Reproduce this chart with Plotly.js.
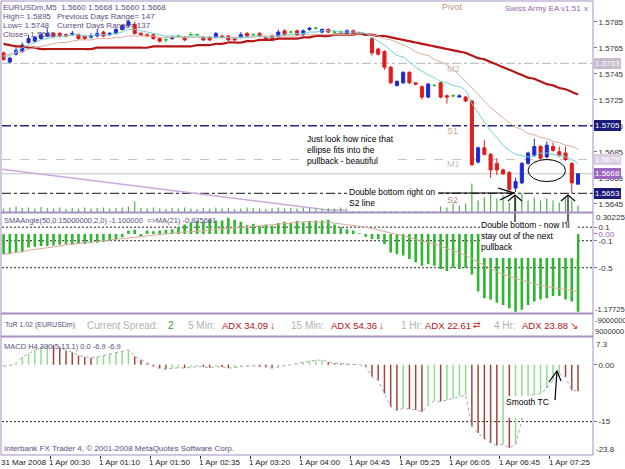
<!DOCTYPE html>
<html>
<head>
<meta charset="utf-8">
<script src="https://cdn.plot.ly/plotly-3.0.1.min.js"></script>
<style>
html,body{margin:0;padding:0;background:#ffffff;}
#chart{width:625px;height:469px;}
</style>
</head>
<body>
<div id="chart"></div>
<script>
// ---------------- DATA (EURUSDm, M5) ----------------
const timeLabels = ['31 Mar 2008','1 Apr 00:30','1 Apr 01:10','1 Apr 01:50','1 Apr 02:35','1 Apr 03:20','1 Apr 04:00','1 Apr 04:45','1 Apr 05:25','1 Apr 06:05','1 Apr 06:45','1 Apr 07:25'];
const timeTickPos = [-0.25,7.5,15.5,23.5,31.5,39.5,47.5,55.5,63.5,71.5,79.5,87.5];

const open = [1.5761,1.5754,1.5760,1.5762,1.5769,1.5770,1.5772,1.5774,1.5776,1.5776,
1.5775,1.5775,1.5775,1.5774,1.5773,1.5774,1.5777,1.5775,1.5776,1.5779,
1.5782,1.5783,1.5776,1.5775,1.5775,1.5772,1.5771,1.5772,1.5774,1.5773,
1.5775,1.5775,1.5773,1.5773,1.5773,1.5774,1.5774,1.5772,1.5773,1.5776,
1.5775,1.5776,1.5773,1.5774,1.5774,1.5778,1.5777,1.5778,1.5775,1.5779,
1.5780,1.5777,1.5779,1.5777,1.5777,1.5776,1.5778,1.5776,1.5775,1.5772,
1.5764,1.5762,1.5750,1.5736,1.5738,1.5746,1.5738,1.5735,1.5727,1.5736,
1.5738,1.5728,1.5728,1.5727,1.5727,1.5724,1.5677,1.5688,1.5683,1.5676,
1.5671,1.5669,1.5657,1.5661,1.5676,1.5682,1.5689,1.5681,1.5689,1.5685,
1.5684,1.5676,1.5660];
const high = [1.5762,1.5758,1.5765,1.5769,1.5775,1.5774,1.5777,1.5780,1.5777,1.5777,
1.5776,1.5778,1.5776,1.5774,1.5776,1.5779,1.5778,1.5777,1.5780,1.5783,
1.5786,1.5785,1.5777,1.5776,1.5776,1.5773,1.5773,1.5774,1.5775,1.5774,
1.5777,1.5776,1.5774,1.5774,1.5777,1.5775,1.5775,1.5773,1.5777,1.5777,
1.5776,1.5777,1.5774,1.5775,1.5779,1.5779,1.5778,1.5779,1.5779,1.5781,
1.5781,1.5780,1.5780,1.5778,1.5778,1.5779,1.5779,1.5777,1.5776,1.5773,
1.5765,1.5763,1.5751,1.5740,1.5747,1.5747,1.5738,1.5736,1.5738,1.5737,
1.5739,1.5729,1.5729,1.5729,1.5728,1.5725,1.5689,1.5694,1.5684,1.5680,
1.5672,1.5670,1.5665,1.5677,1.5685,1.5695,1.5690,1.5693,1.5692,1.5689,
1.5689,1.5677,1.5668];
const low = [1.5755,1.5753,1.5759,1.5761,1.5768,1.5769,1.5771,1.5773,1.5773,1.5773,
1.5773,1.5774,1.5771,1.5771,1.5772,1.5773,1.5773,1.5774,1.5775,1.5778,
1.5781,1.5775,1.5774,1.5773,1.5771,1.5769,1.5769,1.5771,1.5773,1.5770,
1.5774,1.5774,1.5770,1.5770,1.5772,1.5772,1.5770,1.5770,1.5772,1.5773,
1.5774,1.5773,1.5771,1.5770,1.5773,1.5774,1.5776,1.5774,1.5774,1.5778,
1.5779,1.5776,1.5776,1.5776,1.5776,1.5775,1.5775,1.5775,1.5774,1.5759,
1.5759,1.5748,1.5737,1.5735,1.5737,1.5737,1.5736,1.5725,1.5726,1.5735,
1.5726,1.5722,1.5727,1.5727,1.5723,1.5674,1.5676,1.5682,1.5665,1.5667,
1.5667,1.5655,1.5654,1.5660,1.5675,1.5681,1.5679,1.5680,1.5685,1.5681,
1.5678,1.5653,1.5660];
const close = [1.5756,1.5757,1.5763,1.5767,1.5772,1.5773,1.5775,1.5776,1.5774,1.5774,
1.5774,1.5776,1.5772,1.5772,1.5774,1.5776,1.5774,1.5776,1.5779,1.5782,
1.5785,1.5776,1.5775,1.5774,1.5772,1.5770,1.5771,1.5773,1.5774,1.5771,
1.5775,1.5775,1.5771,1.5771,1.5776,1.5773,1.5771,1.5771,1.5775,1.5774,
1.5775,1.5774,1.5772,1.5771,1.5777,1.5775,1.5777,1.5775,1.5778,1.5780,
1.5780,1.5779,1.5777,1.5777,1.5777,1.5778,1.5776,1.5776,1.5775,1.5761,
1.5760,1.5750,1.5738,1.5739,1.5746,1.5738,1.5737,1.5727,1.5737,1.5736,
1.5727,1.5727,1.5728,1.5728,1.5724,1.5675,1.5688,1.5683,1.5671,1.5671,
1.5668,1.5656,1.5662,1.5676,1.5684,1.5689,1.5680,1.5690,1.5686,1.5682,
1.5679,1.5661,1.5668];

const maFast = [1.5758,1.5759,1.5762,1.5765,1.5767,1.5769,1.5771,1.5772,1.5773,1.5774,
1.5774,1.5775,1.5775,1.5774,1.5774,1.5775,1.5775,1.5775,1.5776,1.5777,
1.5779,1.5779,1.5778,1.5777,1.5776,1.5775,1.5774,1.5774,1.5774,1.5773,
1.5774,1.5774,1.5773,1.5773,1.5773,1.5773,1.5773,1.5772,1.5773,1.5773,
1.5774,1.5774,1.5773,1.5773,1.5774,1.5775,1.5775,1.5776,1.5776,1.5777,
1.5777,1.5778,1.5778,1.5778,1.5777,1.5777,1.5777,1.5777,1.5776,1.5773,
1.5770,1.5767,1.5763,1.5759,1.5758,1.5754,1.5750,1.5747,1.5744,1.5742,
1.5739,1.5738,1.5736,1.5735,1.5732,1.5722,1.5715,1.5708,1.5701,1.5696,
1.5690,1.5686,1.5683,1.5682,1.5681,1.5682,1.5684,1.5684,1.5683,1.5682,
1.5681,1.5679,1.5676];
const maMid = [1.5759,1.5760,1.5761,1.5762,1.5764,1.5765,1.5766,1.5767,1.5768,1.5769,
1.5769,1.5770,1.5771,1.5771,1.5771,1.5772,1.5772,1.5772,1.5773,1.5773,
1.5774,1.5774,1.5774,1.5774,1.5774,1.5773,1.5773,1.5773,1.5773,1.5773,
1.5773,1.5773,1.5773,1.5773,1.5773,1.5773,1.5773,1.5773,1.5773,1.5773,
1.5773,1.5774,1.5774,1.5774,1.5774,1.5774,1.5774,1.5774,1.5775,1.5775,
1.5775,1.5775,1.5775,1.5775,1.5775,1.5775,1.5775,1.5776,1.5776,1.5775,
1.5774,1.5772,1.5771,1.5769,1.5767,1.5765,1.5762,1.5760,1.5759,1.5756,
1.5754,1.5752,1.5748,1.5744,1.5739,1.5734,1.5729,1.5724,1.5719,1.5715,
1.5711,1.5707,1.5704,1.5702,1.5699,1.5698,1.5696,1.5695,1.5693,1.5692,
1.5690,1.5689,1.5687];
const maSlow = [1.5768,1.5767,1.5766,1.5766,1.5765,1.5765,1.5764,1.5764,1.5764,1.5764,
1.5764,1.5764,1.5764,1.5764,1.5764,1.5765,1.5765,1.5765,1.5765,1.5765,
1.5765,1.5765,1.5765,1.5765,1.5766,1.5766,1.5766,1.5766,1.5766,1.5766,
1.5766,1.5767,1.5767,1.5767,1.5768,1.5768,1.5769,1.5769,1.5769,1.5770,
1.5770,1.5771,1.5771,1.5771,1.5772,1.5772,1.5772,1.5772,1.5773,1.5773,
1.5774,1.5774,1.5774,1.5775,1.5775,1.5775,1.5775,1.5776,1.5775,1.5775,
1.5774,1.5774,1.5773,1.5772,1.5771,1.5770,1.5769,1.5768,1.5767,1.5766,
1.5765,1.5764,1.5763,1.5762,1.5761,1.5759,1.5757,1.5756,1.5754,1.5752,
1.5750,1.5748,1.5746,1.5744,1.5742,1.5741,1.5739,1.5737,1.5736,1.5734,
1.5733,1.5731,1.5729];

const volume = [8,10,12,9,10,8,11,9,8,10,
7,9,8,10,8,9,10,8,9,10,
12,22,9,8,10,8,7,9,8,10,
8,7,9,8,10,8,9,7,8,10,
9,8,7,9,10,8,9,8,10,9,
8,7,9,8,10,8,9,8,10,14,
10,16,14,12,10,12,9,14,11,10,
12,10,18,14,18,58,24,30,38,28,
34,20,30,38,24,30,24,28,24,20,
30,24,14];

const trendX = [-0.25, 52, 55.5];
const trendY = [1.56715, 1.56402, 1.56402];

const levelValues = [1.5753, 1.5705, 1.5679, 1.5668, 1.5653];
const levelNames  = ['M2', 'S1', 'M1', '', 'S2'];
const priceTicks  = [1.5645,1.5665,1.5685,1.5705,1.5725,1.5745,1.5765,1.5785];

const smaAngle = [-0.30,-0.30,-0.28,-0.27,-0.20,-0.19,-0.18,-0.18,-0.17,-0.16,
-0.15,-0.16,-0.15,-0.15,-0.13,-0.13,-0.12,-0.10,-0.08,-0.05,
0.05,0.06,-0.04,0.05,0.04,0.05,0.06,0.07,0.10,0.14,
0.17,0.19,0.18,0.21,0.20,0.20,0.24,0.21,0.18,0.13,
0.15,0.12,0.14,0.12,0.16,0.18,0.16,0.19,0.17,0.19,
0.20,0.20,0.21,0.14,0.10,0.07,0.05,0.01,-0.04,-0.075,
-0.08,-0.15,-0.275,-0.30,-0.32,-0.37,-0.42,-0.47,-0.45,-0.47,
-0.52,-0.55,-0.50,-0.52,-0.50,-0.60,-0.85,-0.95,-0.97,-1.02,
-1.05,-1.10,-1.15,-1.12,-1.05,-1.00,-0.97,-0.95,-0.92,-0.92,
-0.97,-1.00,-1.15];
const smaMA = [-0.30,-0.29,-0.27,-0.26,-0.24,-0.23,-0.22,-0.21,-0.19,-0.18,
-0.16,-0.15,-0.14,-0.12,-0.11,-0.10,-0.09,-0.08,-0.07,-0.06,
-0.05,-0.05,-0.04,-0.03,-0.02,-0.01,0.00,0.01,0.02,0.03,
0.03,0.04,0.05,0.06,0.07,0.07,0.08,0.09,0.10,0.10,
0.11,0.12,0.12,0.13,0.14,0.15,0.16,0.17,0.18,0.18,
0.18,0.18,0.17,0.16,0.15,0.14,0.13,0.12,0.10,0.08,
0.06,0.04,0.02,0.00,-0.02,-0.05,-0.08,-0.10,-0.12,-0.15,
-0.18,-0.21,-0.25,-0.28,-0.32,-0.37,-0.42,-0.47,-0.52,-0.56,
-0.60,-0.63,-0.66,-0.69,-0.72,-0.74,-0.76,-0.78,-0.79,-0.81,
-0.82,-0.84,-0.85];
const smaLevels = [0.1, -0.1, -0.5];

const macd = [-0.4,-0.2,0.3,2.0,2.9,3.9,4.6,5.0,4.9,4.6,
3.7,3.3,2.4,2.0,1.8,2.0,2.4,2.9,3.3,3.6,
3.9,2.2,1.3,0.3,-0.4,-1.0,-1.2,-1.0,-0.8,-0.9,
-0.7,-0.5,-0.6,-0.8,-0.5,-0.6,-0.9,-0.8,-0.5,-0.4,
-0.3,-0.5,-0.6,-0.9,-0.6,-0.3,0.0,0.3,0.7,1.1,
1.2,1.2,0.7,0.4,0.3,0.2,0.1,0.0,-0.5,-3.2,
-4.1,-7.6,-11.1,-12.1,-11.5,-11.7,-11.9,-12.4,-10.6,-9.5,
-9.7,-9.3,-8.9,-8.3,-8.0,-16.3,-18.0,-19.6,-20.6,-21.3,
-21.0,-21.9,-21.1,-14.5,-8.0,-7.9,-7.6,-6.3,-4.1,-2.4,
-3.2,-6.7,-7.0];
const macdLevels = [-15];

// ---------------- LAYOUT HELPERS ----------------
const FONT = '"Liberation Sans", Arial, "DejaVu Sans", sans-serif';
const L = 2, R = 593, T = 2, B = 455;
const px = x => (x - L) / (R - L);
const py = y => 1 - (y - T) / (B - T);
const FRAME = '#a58fc2';

const bars = open.map((_, i) => i);
const bodyIdx = bars.filter(i => open[i] !== close[i]);
const dojiIdx = bars.filter(i => open[i] === close[i]);
const pick = (arr, idx) => idx.map(i => arr[i]);

const traces = [
  {type:'bar', x:bars, y:volume, yaxis:'y5', width:0.2, marker:{color:'#55b455', line:{width:0}}, hoverinfo:'skip'},
  {type:'scatter', mode:'lines', x:trendX, y:trendY, line:{color:'#c9a9dd', width:1.5}, hoverinfo:'skip'},
  {type:'candlestick', x:pick(bars,bodyIdx), open:pick(open,bodyIdx), high:pick(high,bodyIdx), low:pick(low,bodyIdx), close:pick(close,bodyIdx),
   increasing:{line:{color:'#1f2bd0', width:1}, fillcolor:'#1f2bd0'},
   decreasing:{line:{color:'#e01c1c', width:1}, fillcolor:'#e01c1c'}, whiskerwidth:0, hoverinfo:'skip'},
  {type:'candlestick', x:pick(bars,dojiIdx), open:pick(open,dojiIdx), high:pick(high,dojiIdx), low:pick(low,dojiIdx), close:pick(close,dojiIdx),
   increasing:{line:{color:'#2cbc2c', width:1}, fillcolor:'#2cbc2c'},
   decreasing:{line:{color:'#2cbc2c', width:1}, fillcolor:'#2cbc2c'}, whiskerwidth:0, hoverinfo:'skip'},
  {type:'scatter', mode:'lines', x:bars, y:maSlow, line:{color:'#b51616', width:2.2, shape:'spline', smoothing:0.8}, hoverinfo:'skip'},
  {type:'scatter', mode:'lines', x:bars, y:maMid, line:{color:'#dcab94', width:1, shape:'spline', smoothing:0.8}, hoverinfo:'skip'},
  {type:'scatter', mode:'lines', x:bars, y:maFast, line:{color:'#6ed0d0', width:1, shape:'spline', smoothing:0.8}, hoverinfo:'skip'},
  {type:'bar', x:bars, y:smaAngle, yaxis:'y2', width:0.42, marker:{color:'#2fb52f', line:{width:0}}, hoverinfo:'skip'},
  {type:'scatter', mode:'lines', x:bars, y:smaMA, yaxis:'y2', line:{color:'#d4a898', width:1}, hoverinfo:'skip'},
  {type:'bar', x:bars, y:macd, yaxis:'y4', width:0.24,
   marker:{color: macd.map((v,i) => (i > 0 && v < macd[i-1]) ? '#a3443c' : '#8edc8e'), line:{width:0}}, hoverinfo:'skip'},
  {type:'scatter', mode:'lines', x:bars, y:macd, yaxis:'y4', line:{color:'#a8a8a8', width:1, dash:'dot'}, hoverinfo:'skip'}
];

// ---------------- SHAPES ----------------
const shapes = [];
const levelStyles = [
  {color:'#b4b4b4', width:1, dash:'dashdot'},
  {color:'#26267c', width:1.5, dash:'dashdot'},
  {color:'#c4c4c4', width:1, dash:'dash'},
  {color:'#c2c2c2', width:1, dash:'solid'},
  {color:'#111111', width:1, dash:'dashdot'}
];
levelValues.forEach((v, k) => shapes.push({type:'line', xref:'paper', yref:'y', x0:0, x1:1, y0:v, y1:v, line:levelStyles[k], layer:'below'}));
smaLevels.forEach(v => shapes.push({type:'line', xref:'paper', yref:'y2', x0:0, x1:1, y0:v, y1:v, line:{color:'#222', width:1, dash:'2px,2px'}, layer:'below'}));
macdLevels.forEach(v => shapes.push({type:'line', xref:'paper', yref:'y4', x0:0, x1:1, y0:v, y1:v, line:{color:'#222', width:1, dash:'2px,2px'}, layer:'below'}));

// white boxes behind the pasted comments
function rectPx(x0,y0,x1,y1){ return {type:'rect', xref:'paper', yref:'paper', x0:px(x0), x1:px(x1), y0:py(y1), y1:py(y0), fillcolor:'#ffffff', line:{width:0}, layer:'above'}; }
shapes.push(rectPx(305,133,398,167));
shapes.push(rectPx(347,186,439,211));
shapes.push(rectPx(480,219,577,258));
shapes.push(rectPx(505,396,551,418));

// ellipse around the pullback
shapes.push({type:'circle', xref:'x', yref:'y', x0:84.0, x1:90.0, y0:1.5662, y1:1.5679, line:{color:'#000', width:1}});

// hand-drawn arrows (pixel geometry)
function path(pts){ return pts.map((p,k)=> (k?'L ':'M ') + px(p[0]) + ' ' + py(p[1])).join(' '); }
const arrowLine = {color:'#000', width:1.2};
[
  [[438,193],[513,193]], [[498,188],[514,193],[500,200]],
  [[515,222],[515,195]], [[508,201],[515,195],[522,201]],
  [[568,221],[568,195]], [[561,201],[568,195],[575,201]],
  [[555,400],[557,371]], [[549,382],[557,371],[561,381]]
].forEach(p => shapes.push({type:'path', xref:'paper', yref:'paper', path:path(p), line:arrowLine}));

// panel frames
[1, 212.5, 313.5, 336.5, 455].forEach(y => shapes.push({type:'line', xref:'paper', yref:'paper', x0:px(1), x1:px(593), y0:py(y), y1:py(y), line:{color:FRAME, width: (y===1||y===455)?1:2}}));
[1, 593].forEach(x => shapes.push({type:'line', xref:'paper', yref:'paper', x0:px(x), x1:px(x), y0:py(1), y1:py(455), line:{color:FRAME, width:1}}));

// ---------------- ANNOTATIONS ----------------
const ann = [];
function txt(t, x, y, size, color, extra){
  ann.push(Object.assign({text:t, xref:'paper', yref:'paper', x:px(x), y:py(y), xanchor:'left', yanchor:'middle',
    showarrow:false, borderpad:0, borderwidth:0, align:'left', font:{family:FONT, size:size, color:color}}, extra||{}));
}
const INFO = '#5b4b80';
txt('EURUSDm,M5  1.5660 1.5668 1.5660 1.5668', 3, 7, 8, INFO);
txt('High= 1.5895', 3, 16, 8, INFO);
txt('Previous Days Range= 147', 57, 16, 8, INFO);
txt('Low= 1.5748', 3, 25, 8, INFO);
txt('Current Days Range= 137', 57, 25, 8, INFO);
txt('Close= 1.5668', 3, 34, 8, INFO);
txt('Pivot', 442, 7, 9, '#c39282');
txt('Swiss Army EA v1.51', 505, 9, 8, '#9462ad');
txt('x', 584, 9, 8, '#9462ad');
const levelLabelPos = [[447,69,'#cdb6ae'],[447,131,'#d2a08e'],[447,164,'#c2c2c2'],null,[447,200,'#b48c74']];
levelNames.forEach((n,k) => { if (n && levelLabelPos[k]) txt(n, levelLabelPos[k][0], levelLabelPos[k][1], 9, levelLabelPos[k][2]); });
txt('Just look how nice that<br>ellipse fits into the<br>pullback - beautiful', 307, 134, 8.5, '#000', {yanchor:'top'});
txt('Double bottom right on<br>S2 line', 349, 187, 8.5, '#000', {yanchor:'top'});
txt('Double bottom - now I\'ll<br>stay out of the next<br>pullback', 481, 220, 8.5, '#000', {yanchor:'top'});
txt('Smooth TC', 506, 402, 8.5, '#000');
txt('SMAAngle(50,0.15000000,2,0) -1.100000  =>MA(21) -0.835661', 4, 220, 7.5, INFO);
txt('MACD H4,300(5,13,1) 0.0 -6.9 -6.9', 4, 346, 7.5, INFO);
txt('Interbank FX Trader 4, \u00a9 2001-2008 MetaQuotes Software Corp.', 4, 448, 8, INFO);
txt('ToR 1.02 (EURUSDm)', 5, 325, 7, INFO);
txt('Current Spread:', 87, 325, 10, '#b2b2b2');
txt('2', 168, 325, 10, '#22a622');
txt('5 Min:', 188, 325, 10, '#b2b2b2');
txt('ADX 34.09', 222, 325, 9.5, '#b31212');
txt('\u2193', 270, 325, 10, '#d01414');
txt('15 Min:', 291, 325, 10, '#b2b2b2');
txt('ADX 54.36', 331, 325, 9.5, '#b31212');
txt('\u2193', 379, 325, 10, '#d01414');
txt('1 Hr:', 401, 325, 10, '#b2b2b2');
txt('ADX 22.61', 425, 325, 9.5, '#b31212');
txt('\u21c4', 473, 325, 9, '#d01414');
txt('4 Hr:', 494, 325, 10, '#b2b2b2');
txt('ADX 23.88', 522, 325, 9.5, '#b31212');
txt('\u2198', 570, 325, 10, '#d01414');
const AX = '#333';
txt('0.30225', 596, 217, 8, AX);
txt('-1.17725', 595, 309, 7.5, AX);
txt('-9000000', 595, 320, 7.5, AX);
txt('9000000', 595, 331, 7.5, AX);
txt('7.3', 596, 344, 8, AX);
txt('-23.8', 596, 449, 8, AX);
const boxColors = ['#c6bccb', '#1c1c78', '#dccfe4', '#9b68c2', '#1c1c78'];
levelValues.forEach((v,k) => ann.push({text:v.toFixed(4), xref:'paper', yref:'y', x:1, xshift:1, y:v, xanchor:'left', yanchor:'middle',
  showarrow:false, bgcolor:boxColors[k], borderpad:1, borderwidth:0, font:{family:FONT, size:8, color:'#ffffff'}}));
timeLabels.forEach((t,k) => ann.push({text:t, xref:'x', yref:'paper', x:timeTickPos[k], xshift:-1, y:py(462), xanchor:'left', yanchor:'middle',
  showarrow:false, borderpad:0, borderwidth:0, font:{family:FONT, size:8, color:'#222'}}));

// ---------------- LAYOUT ----------------
const yCommon = {side:'right', anchor:'x', showgrid:false, zeroline:false, ticks:'outside', ticklen:3, tickcolor:'#8a70a8',
  tickfont:{family:FONT, size:8, color:AX}, showline:false, fixedrange:true};
const layout = {
  width:625, height:469, margin:{l:L, r:625-R, t:T, b:469-B, pad:0},
  paper_bgcolor:'#ffffff', plot_bgcolor:'#ffffff', showlegend:false, barmode:'overlay',
  font:{family:FONT, size:8, color:AX},
  xaxis:{domain:[0,1], range:[-0.25,94.4], anchor:'y4', showgrid:false, zeroline:false, showticklabels:false,
    ticks:'outside', ticklen:3, tickcolor:'#333', tickvals:timeTickPos.slice(1), rangeslider:{visible:false}, fixedrange:true, showline:false},
  yaxis:Object.assign({}, yCommon, {domain:[py(212.5),1], range:[1.563823,1.580015], tickvals:priceTicks, ticktext:priceTicks.map(v=>v.toFixed(4))}),
  yaxis2:Object.assign({}, yCommon, {domain:[py(313.5),py(213.5)], range:[-1.17725,0.30225], tickvals:[0.1,0,-0.1,-0.5],
    ticktext:['0.1','<span style="color:#9a58c8">0.00</span>','-0.1','-0.5']}),
  yaxis4:Object.assign({}, yCommon, {domain:[0,py(337)], range:[-23.8,7.3], tickvals:[0,-15], ticktext:['0.00','-15']}),
  yaxis5:{overlaying:'y', anchor:'x', range:[0,420], visible:false, fixedrange:true},
  shapes:shapes, annotations:ann
};

Plotly.newPlot('chart', traces, layout, {staticPlot:true, displayModeBar:false});
</script>
</body>
</html>
